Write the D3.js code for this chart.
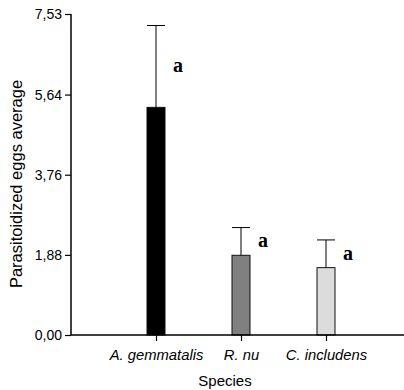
<!DOCTYPE html>
<html>
<head>
<meta charset="utf-8">
<script src="https://cdn.jsdelivr.net/npm/d3@7"></script>
<style>
  body { margin: 0; background: #fff; }
  svg { display: block; }
</style>
</head>
<body>
<svg id="canvas" width="404" height="390"></svg>
<script>
// chart values
const species = ["A. gemmatalis", "R. nu", "C. includens"];
const means = [5.34, 1.87, 1.58];
const errors = [1.92, 0.65, 0.65];
const letters = ["a", "a", "a"];
const fills = ["#000000", "#808080", "#dcdcdc"];
const yTicks = [0, 1.88, 3.76, 5.64, 7.53];
const yTickLabels = ["0,00", "1,88", "3,76", "5,64", "7,53"];

let canvas = d3.select("#canvas");

let plotLeft = 71, plotRight = 404, plotTop = 14, plotBottom = 335;

let x = d3.scalePoint()
    .domain(species)
    .range([plotLeft, plotLeft + 340])
    .padding(1);

let y = d3.scaleLinear()
    .domain([0, 7.53])
    .range([plotBottom, plotTop]);

let barW = 18;

// bars
canvas.selectAll("rect.bar")
    .data(species)
    .enter()
    .append("rect")
    .attr("class", "bar")
    .attr("x", (d) => x(d) - barW / 2)
    .attr("y", (d, i) => y(means[i]))
    .attr("width", barW)
    .attr("height", (d, i) => y(0) - y(means[i]))
    .attr("fill", (d, i) => fills[i])
    .attr("stroke", "#111")
    .attr("stroke-width", 1);

// error bars, upper only
let err = canvas.selectAll("g.err")
    .data(species)
    .enter()
    .append("g")
    .attr("class", "err")
    .attr("stroke", "#000")
    .attr("stroke-width", 1);

err.append("line")
    .attr("x1", (d) => x(d))
    .attr("x2", (d) => x(d))
    .attr("y1", (d, i) => y(means[i]))
    .attr("y2", (d, i) => y(means[i] + errors[i]));

err.append("line")
    .attr("x1", (d) => x(d) - barW / 2)
    .attr("x2", (d) => x(d) + barW / 2)
    .attr("y1", (d, i) => y(means[i] + errors[i]))
    .attr("y2", (d, i) => y(means[i] + errors[i]));

// significance letters
canvas.selectAll("text.letter")
    .data(species)
    .enter()
    .append("text")
    .attr("class", "letter")
    .attr("x", (d) => x(d) + 17)
    .attr("y", (d, i) => (y(means[i]) + y(means[i] + errors[i])) / 2 + 6)
    .attr("font-family", "Liberation Serif, Times New Roman, serif")
    .attr("font-weight", "bold")
    .attr("font-size", 20)
    .text((d, i) => letters[i]);

// y axis
let yAxis = d3.axisLeft(y)
    .tickValues(yTicks)
    .tickFormat((d, i) => yTickLabels[i])
    .tickSize(6)
    .tickPadding(3);

let yg = canvas.append("g")
    .attr("transform", "translate(" + plotLeft + ",0)")
    .call(yAxis);
yg.select(".domain").attr("d", "M0," + plotTop + "V" + plotBottom).attr("stroke-width", 1.5);
yg.selectAll(".tick line").attr("stroke-width", 1.2);
yg.selectAll("text")
    .attr("font-family", "Liberation Sans, Arial, sans-serif")
    .attr("font-size", 14)
    .attr("fill", "#000");

// x axis
let xAxis = d3.axisBottom(x)
    .tickSize(6)
    .tickPadding(8);

let xg = canvas.append("g")
    .attr("transform", "translate(0," + plotBottom + ")")
    .call(xAxis);
xg.select(".domain").attr("d", "M" + plotLeft + ",0H" + plotRight).attr("stroke-width", 1.5);
xg.selectAll(".tick line").attr("stroke-width", 1.2);
xg.selectAll("text")
    .attr("font-family", "Liberation Sans, Arial, sans-serif")
    .attr("font-style", "italic")
    .attr("font-size", 14.8)
    .attr("fill", "#000");

// axis titles
canvas.append("text")
    .attr("x", 225)
    .attr("y", 386)
    .attr("text-anchor", "middle")
    .attr("font-family", "Liberation Sans, Arial, sans-serif")
    .attr("font-size", 15)
    .text("Species");

canvas.append("text")
    .attr("transform", "translate(22,184) rotate(-90)")
    .attr("text-anchor", "middle")
    .attr("font-family", "Liberation Sans, Arial, sans-serif")
    .attr("font-size", 16.5)
    .text("Parasitoidized eggs average");
</script>
</body>
</html>
